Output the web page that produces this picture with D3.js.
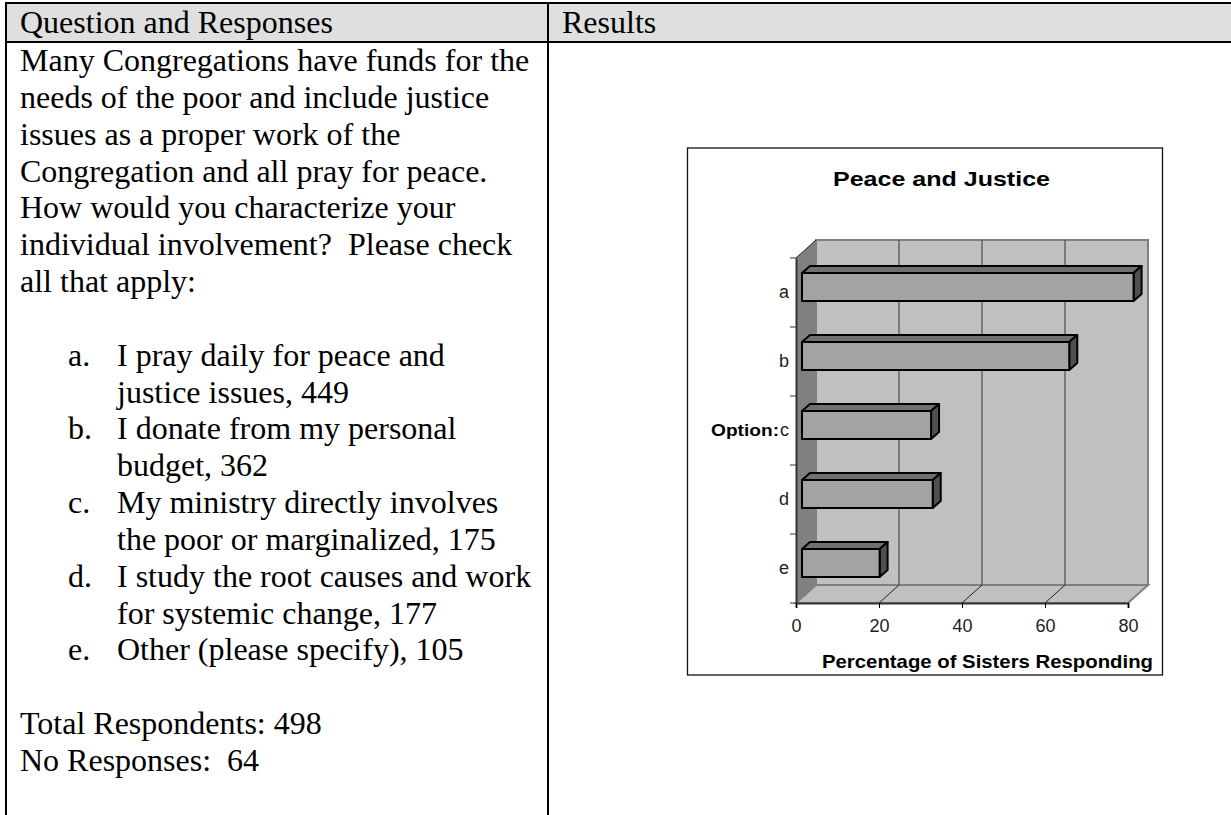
<!DOCTYPE html>
<html>
<head>
<style>
html, body {margin:0; padding:0; background:#fff; overflow:hidden;}
svg {display:block;}
.doc {font-family:"Liberation Serif"; font-size:32px; fill:#000;}
.chart {font-family:"Liberation Sans"; fill:#000;}
</style>
<script src="https://d3js.org/d3.v7.min.js"></script>
</head>
<body>
<div id="my_dataviz"></div>
<script>
// chart data
var options = ["a", "b", "c", "d", "e"]
var percents = [79.9, 64.4, 31.1, 31.5, 18.7]
var xTicks = [0, 20, 40, 60, 80]

// text of the left cell
var headers = ["Question and Responses", "Results"]
var question = [
  "Many Congregations have funds for the",
  "needs of the poor and include justice",
  "issues as a proper work of the",
  "Congregation and all pray for peace.",
  "How would you characterize your",
  "individual involvement?  Please check",
  "all that apply:"
]
var answers = [
  ["a.", "I pray daily for peace and", "justice issues, 449"],
  ["b.", "I donate from my personal", "budget, 362"],
  ["c.", "My ministry directly involves", "the poor or marginalized, 175"],
  ["d.", "I study the root causes and work", "for systemic change, 177"],
  ["e.", "Other (please specify), 105"]
]
var totals = ["Total Respondents: 498", "No Responses:  64"]

var width = 1231, height = 815

var svg = d3.select("#my_dataviz").append("svg")
  .attr("width", width)
  .attr("height", height)

// table
svg.append("rect").attr("x", 6).attr("y", 3).attr("width", 1225).attr("height", 39).attr("fill", "#dfdfdf")
var rules = [[5, 3, 1231, 3], [5, 42, 1231, 42], [6, 2, 6, 815], [548, 2, 548, 815]]
svg.selectAll("line.rule").data(rules).enter().append("line")
  .attr("x1", d => d[0]).attr("y1", d => d[1]).attr("x2", d => d[2]).attr("y2", d => d[3])
  .attr("stroke", "#000").attr("stroke-width", 2)

function docText(str, x, y) {
  svg.append("text").attr("class", "doc").attr("x", x).attr("y", y)
    .style("white-space", "pre").text(str)
}

docText(headers[0], 20, 33)
docText(headers[1], 562, 33)

var lineH = 36.84
var y0 = 71
question.forEach(function(s, i) { docText(s, 20, y0 + i * lineH) })
var row = question.length + 1
answers.forEach(function(a) {
  docText(a[0], 68, y0 + row * lineH)
  docText(a[1], 117, y0 + row * lineH)
  row++
  if (a[2]) { docText(a[2], 117, y0 + row * lineH); row++ }
})
row++
totals.forEach(function(s) { docText(s, 20, y0 + row * lineH); row++ })

// chart frame
svg.append("rect").attr("x", 687.5).attr("y", 148).attr("width", 475).attr("height", 527)
  .attr("fill", "#fff").attr("stroke", "#111").attr("stroke-width", 1.3)

var chart = svg.append("g").attr("class", "chart")

var x = d3.scaleLinear().domain([0, 80]).range([796, 1128])
var y = d3.scaleBand().domain(options).range([258, 603])

var depthX = 20, depthY = 18   // depth of the plot box
var barDX = 8, barDY = 7       // depth of a bar
var barShift = 6, barInset = 15

function pts(a) { return a.map(p => p.join(",")).join(" ") }

var yTop = y.range()[0], yBot = y.range()[1]

// back wall, side wall, floor
chart.append("polygon")
  .attr("points", pts([[x(0) + depthX, yTop - depthY], [x(80) + depthX, yTop - depthY], [x(80) + depthX, yBot - depthY], [x(0) + depthX, yBot - depthY]]))
  .attr("fill", "#c0c0c0").attr("stroke", "#808080").attr("stroke-width", 2)
chart.append("polygon")
  .attr("points", pts([[x(0), yTop], [x(0) + depthX, yTop - depthY], [x(0) + depthX, yBot - depthY], [x(0), yBot]]))
  .attr("fill", "#808080")
chart.append("polygon")
  .attr("points", pts([[x(0), yBot], [x(0) + depthX, yBot - depthY], [x(80) + depthX, yBot - depthY], [x(80), yBot]]))
  .attr("fill", "#c0c0c0").attr("stroke", "#808080").attr("stroke-width", 2)
chart.append("line")
  .attr("x1", x(0)).attr("y1", yTop).attr("x2", x(0) + depthX).attr("y2", yTop - depthY)
  .attr("stroke", "#222")

// gridlines on wall and floor
chart.selectAll("line.grid").data(xTicks.slice(1, 4)).enter().append("line")
  .attr("x1", d => x(d) + depthX).attr("x2", d => x(d) + depthX)
  .attr("y1", yTop - depthY).attr("y2", yBot - depthY)
  .attr("stroke", "#555").attr("stroke-width", 1.3)
chart.selectAll("line.floor").data(xTicks.slice(1, 4)).enter().append("line")
  .attr("x1", d => x(d)).attr("x2", d => x(d) + depthX)
  .attr("y1", yBot).attr("y2", yBot - depthY)
  .attr("stroke", "#222")

// axes
var xAxis = d3.axisBottom(x).tickValues(xTicks).tickSize(5).tickPadding(11)
var gx = chart.append("g").attr("transform", "translate(0," + yBot + ")").call(xAxis)
gx.select(".domain").attr("stroke", "#333").attr("stroke-width", 2)
gx.selectAll("text").attr("font-family", "Liberation Sans").attr("font-size", 18).attr("fill", "#222")

var yAxis = d3.axisLeft(y).tickSize(0).tickPadding(7)
var gy = chart.append("g").attr("transform", "translate(" + x(0) + ",0)").call(yAxis)
gy.select(".domain").attr("stroke", "#333").attr("stroke-width", 2)
gy.selectAll("text").attr("font-family", "Liberation Sans").attr("font-size", 18).attr("fill", "#222")
chart.selectAll("line.ytick").data(d3.range(options.length + 1)).enter().append("line")
  .attr("x1", x(0) - 6).attr("x2", x(0))
  .attr("y1", d => yTop + d * y.step()).attr("y2", d => yTop + d * y.step())
  .attr("stroke", "#333")

// bars
var bars = chart.selectAll("g.bar").data(options).enter().append("g")
bars.each(function(o, i) {
  var g = d3.select(this)
  var x0 = x(0) + barShift
  var x1 = x(percents[i]) + barShift
  var top = y(o) + barInset
  var bot = top + 28
  g.append("polygon")
    .attr("points", pts([[x0, top], [x0 + barDX, top - barDY], [x1 + barDX, top - barDY], [x1, top]]))
    .attr("fill", "#707070")
  g.append("polygon")
    .attr("points", pts([[x1, top], [x1 + barDX, top - barDY], [x1 + barDX, bot - barDY], [x1, bot]]))
    .attr("fill", "#505050")
  g.append("rect").attr("x", x0).attr("y", top).attr("width", x1 - x0).attr("height", bot - top)
    .attr("fill", "#a3a3a3")
  g.selectAll("polygon,rect").attr("stroke", "#000").attr("stroke-width", 2).attr("stroke-linejoin", "round")
})

// titles, stretched a little because the original face is wider
chart.append("text").attr("x", 833).attr("y", 186)
  .attr("font-size", 21).attr("font-weight", "bold")
  .attr("textLength", 217).attr("lengthAdjust", "spacingAndGlyphs").text("Peace and Justice")
chart.append("text").attr("x", 822).attr("y", 668)
  .attr("font-size", 19).attr("font-weight", "bold")
  .attr("textLength", 331).attr("lengthAdjust", "spacingAndGlyphs").text("Percentage of Sisters Responding")
chart.append("text").attr("x", 711).attr("y", 436)
  .attr("font-size", 17).attr("font-weight", "bold")
  .attr("textLength", 68).attr("lengthAdjust", "spacingAndGlyphs").text("Option:")
</script>
</body>
</html>
